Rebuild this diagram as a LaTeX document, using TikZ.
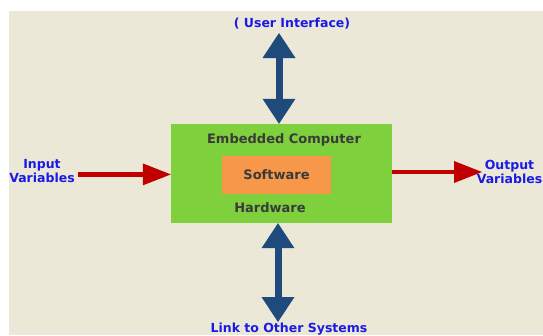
\documentclass[tikz,border=0pt]{standalone}
\usepackage{fontspec}
\setmainfont{DejaVu Sans}
\usetikzlibrary{arrows.meta}
\definecolor{bgbeige}{HTML}{ECE8D8}
\definecolor{boxgreen}{HTML}{7ED03C}
\definecolor{boxorange}{HTML}{F6974A}
\definecolor{arrblue}{HTML}{1F4A7C}
\definecolor{arrred}{HTML}{C00000}
\definecolor{txtblue}{HTML}{1A1AE6}
\definecolor{txtdark}{HTML}{3A3A3A}
\begin{document}
\begin{tikzpicture}[x=1pt,y=-1pt,
  lbl/.style={font=\bfseries\fontsize{12.5}{14.3}\selectfont, text=txtblue, align=center, inner sep=0pt},
  boxtxt/.style={font=\bfseries\fontsize{13}{14}\selectfont, text=txtdark, inner sep=0pt},
  bluearrow/.style={draw=arrblue, line width=7pt, {Triangle[width=33pt,length=25pt,line width=0pt]}-{Triangle[width=33pt,length=25pt,line width=0pt]}},
  redarrow/.style={draw=arrred, line width=4.5pt, -{Triangle[width=22pt,length=28pt,line width=0pt]}}]
\useasboundingbox (0,0) rectangle (543,335);
\fill[bgbeige] (8.5,10.5) rectangle (543,335);
% boxes
\node (ec) [fill=boxgreen, minimum width=221pt, minimum height=99pt, inner sep=0pt] at (281.5,173.5) {};
\node (sw) [fill=boxorange, minimum width=109pt, minimum height=38pt, inner sep=0pt, boxtxt] at (276.5,175) {Software};
\node (emb) [boxtxt] at (284,140) {Embedded Computer};
\node (hw) [boxtxt] at (270,208) {Hardware};
% labels
\node (ui) [lbl] at (292,24) {( User Interface)};
\node (link) [lbl] at (289,329) {Link to Other Systems};
\node (in) [lbl] at (42,171) {Input\\Variables};
\node (out) [lbl] at (509.5,172) {Output\\Variables};
% connectors
\coordinate (ut) at (279,33);
\draw[bluearrow] (ut) -- (ut |- ec.north);
\coordinate (lb) at (278,322);
\draw[bluearrow] (ec.south -| lb) -- (lb);
\coordinate (ls) at (78,174.4);
\draw[redarrow] (ls) -- (ls -| ec.west);
\coordinate (rt) at (482,172);
\draw[redarrow] (rt -| ec.east) -- (rt);
\end{tikzpicture}
\end{document}
